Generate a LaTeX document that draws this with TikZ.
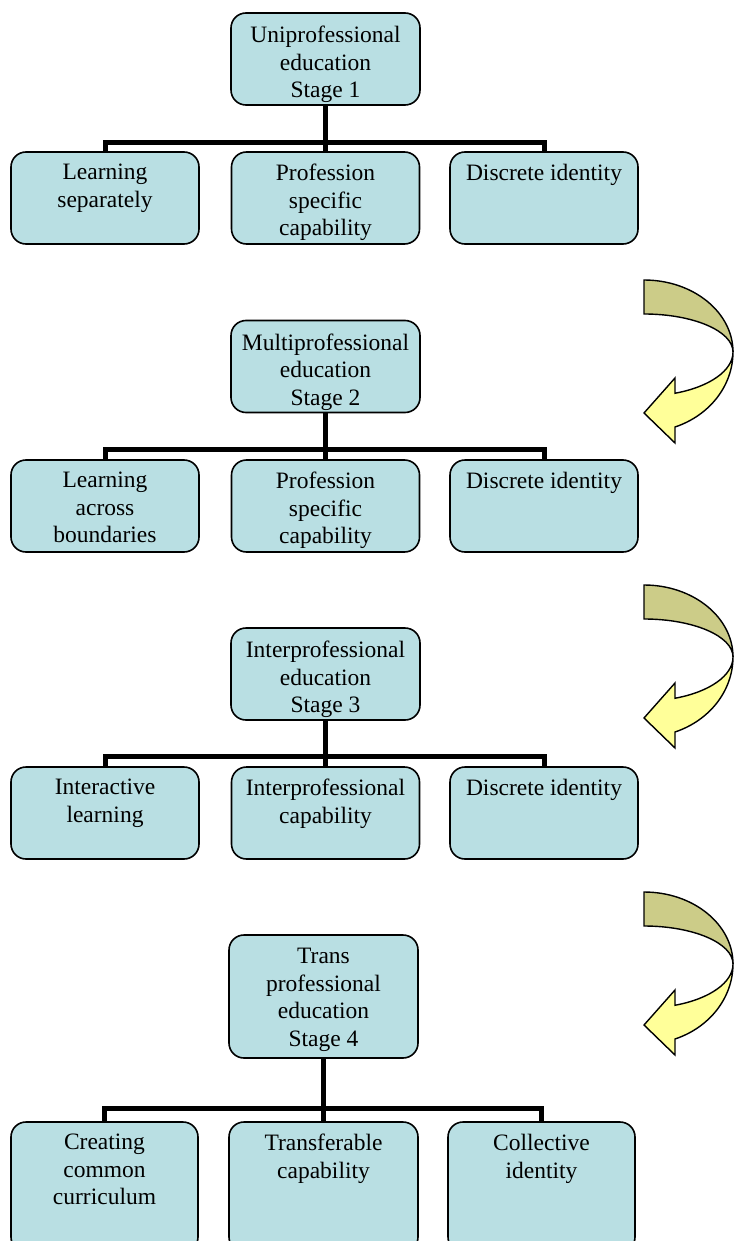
\documentclass[tikz,border=0pt]{standalone}
\usepackage{fontspec}
\setmainfont{Liberation Serif}
\definecolor{boxblue}{RGB}{185,223,227}
\definecolor{olivedark}{RGB}{204,204,136}
\definecolor{lightyel}{RGB}{255,255,153}
\tikzset{
  txt/.style={font=\fontsize{23.5}{27.5}\selectfont, align=center},
  basebox/.style={draw, line width=1.6pt, rounded corners=15pt, fill=boxblue,
    minimum width=189pt, minimum height=92pt, inner sep=0pt},
  topbox/.style={basebox, label={[txt, anchor=north, inner sep=0pt, yshift=-14pt]north:#1}},
  childbox/.style={basebox, minimum width=188pt, label={[txt, anchor=north, inner sep=0pt, yshift=-13pt]north:#1}},
  conn/.style={line width=5pt, black},
  arrowline/.style={draw=black, line width=1.4pt, line join=miter},
}
\newcommand\curvarrow[1]{%
  \begin{scope}[shift={(644,#1)}]
    \path[arrowline, fill=olivedark] (0,72) arc[start angle=90, end angle=0, x radius=89, y radius=72]
      arc[start angle=0, end angle=90, x radius=89, y radius=38] -- cycle;
    \path[arrowline, fill=lightyel] (89,0) arc[start angle=0, end angle=-69.6, x radius=89, y radius=44]
      -- (31,-26) -- (0,-61) -- (31,-91) -- (31,-75)
      arc[start angle=-69.6, end angle=0, x radius=89, y radius=80] -- cycle;
  \end{scope}}
\begin{document}
\begin{tikzpicture}[x=1pt, y=1pt]
\useasboundingbox (0,0) rectangle (734,-1241);
\fill[white] (0,0) rectangle (734,-1241);

% Stage 1
\node[topbox={Uniprofessional\\education\\Stage 1}] (t1) at (325.5,-59) {};
\node[childbox={Learning\\separately}] (c11) at (105,-198) {};
\node[childbox={Profession\\specific\\capability}] (c12) at (325.5,-198) {};
\node[childbox={Discrete identity}] (c13) at (544,-198) {};
\draw[conn] (t1.south) -- (c12.north);
\draw[conn] (c11.north) -- ++(0,9) -| (c13.north);

% Stage 2
\node[topbox={Multiprofessional\\education\\Stage 2}] (t2) at (325.5,-366.5) {};
\node[childbox={Learning\\across\\boundaries}] (c21) at (105,-506) {};
\node[childbox={Profession\\specific\\capability}] (c22) at (325.5,-506) {};
\node[childbox={Discrete identity}] (c23) at (544,-506) {};
\draw[conn] (t2.south) -- (c22.north);
\draw[conn] (c21.north) -- ++(0,10) -| (c23.north);

% Stage 3
\node[topbox={Interprofessional\\education\\Stage 3}] (t3) at (325.5,-674) {};
\node[childbox={Interactive\\learning}] (c31) at (105,-813) {};
\node[childbox={Interprofessional\\capability}] (c32) at (325.5,-813) {};
\node[childbox={Discrete identity}] (c33) at (544,-813) {};
\draw[conn] (t3.south) -- (c32.north);
\draw[conn] (c31.north) -- ++(0,10) -| (c33.north);

% Stage 4
\node[topbox={Trans\\professional\\education\\Stage 4}, minimum height=123pt] (t4) at (323.5,-996.5) {};
\node[childbox={Creating\\common\\curriculum}, minimum width=187pt, minimum height=130pt] (c41) at (104.5,-1187) {};
\node[childbox={Transferable\\capability}, minimum width=189pt, minimum height=130pt] (c42) at (323.5,-1187) {};
\node[childbox={Collective\\identity}, minimum width=187pt, minimum height=130pt] (c43) at (541.5,-1187) {};
\draw[conn] (t4.south) -- (c42.north);
\draw[conn] (c41.north) -- ++(0,12.7) -| (c43.north);

% Curved arrows
\curvarrow{-352}
\curvarrow{-657}
\curvarrow{-964}
\end{tikzpicture}
\end{document}
